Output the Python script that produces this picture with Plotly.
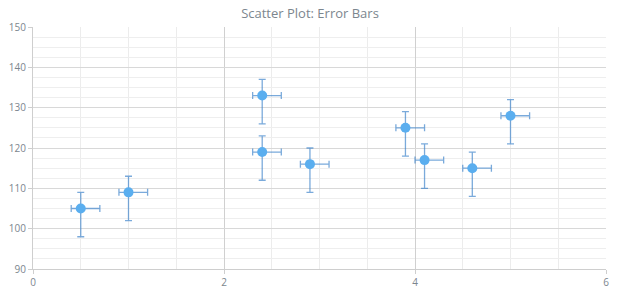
import plotly.graph_objects as go

x_vals = [0.5, 1.0, 2.4, 2.4, 2.9, 3.9, 4.1, 4.6, 5.0]
y_vals = [105, 109, 133, 119, 116, 125, 117, 115, 128]
y_err_plus = [4, 4, 4, 4, 4, 4, 4, 4, 4]
y_err_minus = [7, 7, 7, 7, 7, 7, 7, 7, 7]
x_err_plus = [0.2] * 9
x_err_minus = [0.1] * 9
x_ticks = [0, 2, 4, 6]
y_ticks = [90, 100, 110, 120, 130, 140, 150]

err_color = "rgba(50,125,200,0.65)"
fig = go.Figure(go.Scatter(
    x=x_vals, y=y_vals, mode="markers",
    marker=dict(size=10, color="#5aaeef", line=dict(width=0)),
    error_y=dict(type="data", symmetric=False, array=y_err_plus, arrayminus=y_err_minus,
                 color=err_color, thickness=1.3, width=3.5),
    error_x=dict(type="data", symmetric=False, array=x_err_plus, arrayminus=x_err_minus,
                 color=err_color, thickness=1.3, width=3.5),
))

font = "Open Sans, DejaVu Sans, sans-serif"
fig.update_layout(
    width=620, height=300,
    margin=dict(l=33, r=14, t=27, b=31),
    paper_bgcolor="white", plot_bgcolor="white",
    title=dict(text="Scatter Plot: Error Bars", x=0.5, xanchor="center", y=0.955, yanchor="middle",
               font=dict(family=font, size=13, color="#7c868e")),
    showlegend=False,
    font=dict(family=font, size=10, color="#7c868e"),
)
fig.update_xaxes(
    range=[0, 6], tickvals=x_ticks, showgrid=True, gridcolor="#d0d0d0", gridwidth=1,
    showline=True, linecolor="#cecece", linewidth=1, ticks="outside", ticklen=4, tickcolor="#cecece",
    zeroline=False, mirror=False, automargin=False,
    minor=dict(dtick=0.5, showgrid=True, gridcolor="#ececec", ticks=""),
    tickfont=dict(size=10, color="#7c868e"),
)
fig.update_yaxes(
    range=[90, 150], tickvals=y_ticks, showgrid=True, gridcolor="#d8d8d8", gridwidth=1,
    showline=True, linecolor="#cecece", linewidth=1, ticks="outside", ticklen=4, tickcolor="#cecece",
    zeroline=False, automargin=False,
    minor=dict(dtick=2.5, showgrid=True, gridcolor="#eeeeee", ticks=""),
    tickfont=dict(size=10, color="#7c868e"),
)
fig.write_html("out.html")
